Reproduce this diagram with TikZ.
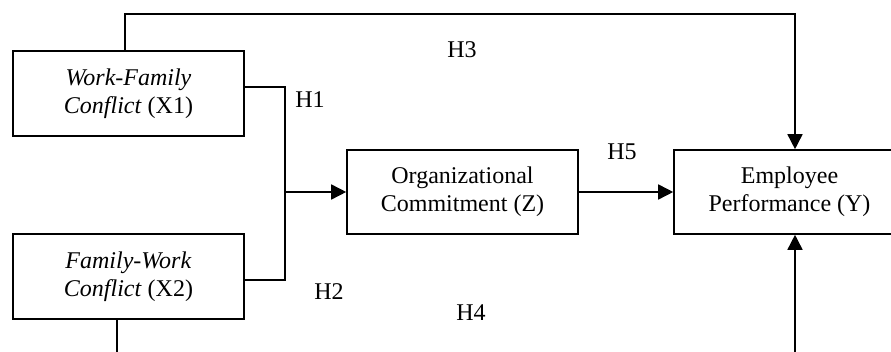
\documentclass[tikz,border=0pt]{standalone}
\usepackage{fontspec}
\setmainfont{Liberation Serif}
\usetikzlibrary{arrows.meta}
\begin{document}
\begin{tikzpicture}[x=1pt,y=-1pt,
  box/.style={draw,line width=1.6pt,minimum width=231pt,minimum height=85pt,inner sep=0pt,align=center,font=\fontsize{24}{28}\selectfont},
  lbl/.style={inner sep=0pt,font=\fontsize{24}{28}\selectfont},
  conn/.style={line width=1.6pt},
  arr/.style={conn,-{Triangle[length=15pt,width=15pt]}}]
\clip (0,0) rectangle (891,352);
\fill[white] (0,0) rectangle (891,352);
\node[box] (X1) at (128.5,93.5) {\textit{Work-Family}\\\textit{Conflict} (X1)};
\node[box] (X2) at (128.5,276.5) {\textit{Family-Work}\\\textit{Conflict} (X2)};
\node[box,minimum height=84pt] (Z) at (462.5,192) {Organizational\\Commitment (Z)};
\node[box,minimum height=84pt] (Y) at (789.5,192) {Employee\\Performance (Y)};
\coordinate (t1) at (125,14);
\coordinate (t2) at (795,14);
\coordinate (j1) at (285,87);
\coordinate (j2) at (285,280);
\coordinate (jm) at (285,192);
\coordinate (b1) at (117,360);
\coordinate (b2) at (795,360);
\draw[arr] (X1.north -| t1) -- (t1) -- (t2) -- (Y.north -| t2);
\draw[conn] (X1.east |- j1) -- (j1) -- (j2) -- (X2.east |- j2);
\draw[arr] (jm) -- (Z.west);
\draw[arr] (Z.east) -- (Y.west);
\draw[conn] (X2.south -| b1) -- (b1);
\draw[arr] (b2) -- (Y.south -| b2);
\node[lbl] (H1) at (310,100) {H1};
\node[lbl] (H2) at (329,292) {H2};
\node[lbl] (H3) at (462,50) {H3};
\node[lbl] (H4) at (471,313) {H4};
\node[lbl] (H5) at (622,152) {H5};
\end{tikzpicture}
\end{document}
